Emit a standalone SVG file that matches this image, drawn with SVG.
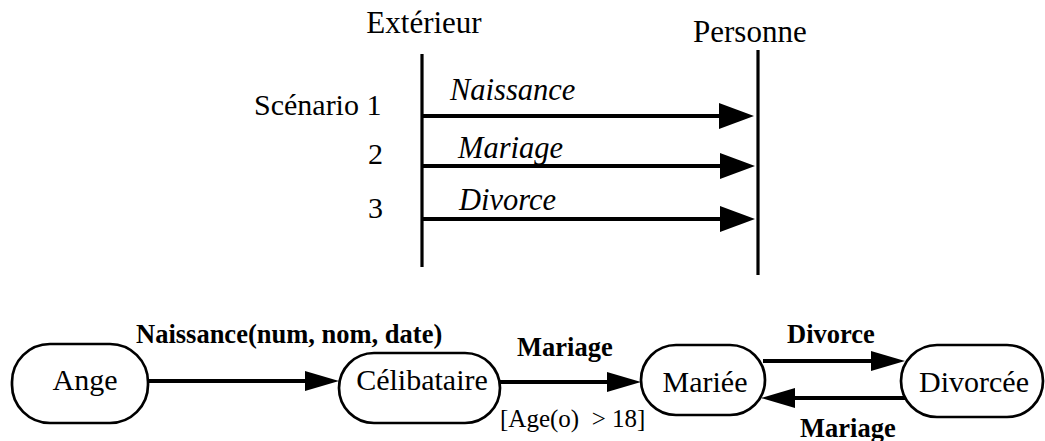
<svg xmlns="http://www.w3.org/2000/svg" width="1045" height="441" viewBox="0 0 1045 441">
  <defs>
    <style>
      text { font-family: "Liberation Serif", "DejaVu Serif", serif; fill: #000; }
      .head { font-size: 31px; }
      .scen { font-size: 30px; }
      .msg { font-size: 30.5px; font-style: italic; }
      .state { font-size: 30px; text-anchor: middle; }
      .trans { font-size: 26.5px; font-weight: bold; }
      .guard { font-size: 25px; white-space: pre; }
      .life { stroke: #000; stroke-width: 3.2; fill: none; }
      .msgline { stroke: #000; stroke-width: 4; fill: none; marker-end: url(#bigArrow); }
      .edge { stroke: #000; stroke-width: 4; fill: none; marker-end: url(#arrow); }
      .box { fill: #fff; stroke: #000; stroke-width: 2.7; }
    </style>
    <!-- large filled head used on the sequence messages -->
    <marker id="bigArrow" markerUnits="userSpaceOnUse" markerWidth="36" markerHeight="28" refX="5" refY="13" orient="auto">
      <path d="M0,0 L35,13 L0,26 Z" fill="#000"/>
    </marker>
    <!-- smaller filled head used on the state transitions -->
    <marker id="arrow" markerUnits="userSpaceOnUse" markerWidth="36" markerHeight="22" refX="5" refY="10" orient="auto">
      <path d="M0,0 L34,10 L0,20 Z" fill="#000"/>
    </marker>
  </defs>

  <!-- sequence: actors and lifelines -->
  <g id="exterieur">
    <text class="head" x="424" y="33" text-anchor="middle">Extérieur</text>
    <line class="life" x1="422" y1="54" x2="422" y2="267"/>
  </g>
  <g id="personne">
    <text class="head" x="693" y="42">Personne</text>
    <line class="life" x1="758" y1="50" x2="758" y2="275"/>
  </g>

  <!-- scenario numbering -->
  <g id="scenarios">
    <text class="scen" x="254" y="115">Scénario 1</text>
    <text class="scen" x="368" y="164">2</text>
    <text class="scen" x="368" y="218">3</text>
  </g>

  <!-- sequence messages -->
  <g id="messages">
    <line class="msgline" x1="422" y1="116" x2="724" y2="116"/>
    <line class="msgline" x1="422" y1="166" x2="725" y2="166"/>
    <line class="msgline" x1="422" y1="219" x2="725" y2="219"/>
    <text class="msg" x="450" y="100">Naissance</text>
    <text class="msg" x="458" y="158">Mariage</text>
    <text class="msg" x="459" y="210">Divorce</text>
  </g>

  <!-- state machine: states -->
  <g id="ange">
    <rect class="box" x="12" y="344" width="136" height="79" rx="38" ry="38"/>
    <text class="state" x="85" y="390">Ange</text>
  </g>
  <g id="celibataire">
    <rect class="box" x="339" y="353" width="161" height="70" rx="35" ry="35"/>
    <text class="state" x="422" y="390">Célibataire</text>
  </g>
  <g id="mariee">
    <rect class="box" x="641" y="345" width="124" height="70" rx="35" ry="35"/>
    <text class="state" x="705" y="392">Mariée</text>
  </g>
  <g id="divorcee">
    <rect class="box" x="901" y="345" width="142" height="72" rx="36" ry="36"/>
    <text class="state" x="974" y="392">Divorcée</text>
  </g>

  <!-- state machine: transitions -->
  <g id="transitions">
    <line class="edge" x1="148" y1="381" x2="310" y2="381"/>
    <line class="edge" x1="500" y1="382" x2="612" y2="382"/>
    <line class="edge" x1="763" y1="361" x2="876" y2="361"/>
    <line class="edge" x1="905" y1="398" x2="790" y2="398"/>
    <text class="trans" x="136" y="343">Naissance(num, nom, date)</text>
    <text class="trans" x="517" y="356">Mariage</text>
    <text class="guard" x="500" y="427">[Age(o)  &gt; 18]</text>
    <text class="trans" x="787" y="343">Divorce</text>
    <text class="trans" x="800" y="437">Mariage</text>
  </g>
</svg>
